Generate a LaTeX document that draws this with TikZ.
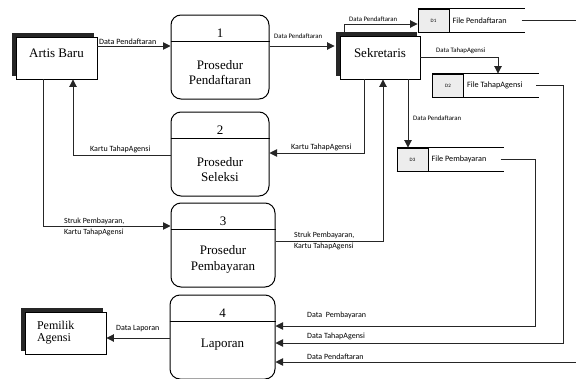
\documentclass[tikz,border=0pt]{standalone}
\usepackage{fontspec}
\setmainfont{Liberation Serif}
\newfontfamily\flowfont{Carlito}
\usetikzlibrary{arrows.meta,positioning,shadows}
\def\proses(#1)(#2)[#3:#4]#5#6{%
  \node[proc, minimum width=#3] (#1) at (#2) {};
  \draw[line width=1pt] ([yshift=-27pt]#1.north west) -- ([yshift=-27pt]#1.north east);
  \node[proctext] (#1n) at ([yshift=-19pt]#1.north) {#5};
  \node[proctext] (#1t) at ([yshift=-#4]#1.north) {#6};}
\def\simpan(#1)(#2)#3#4{%
  \node[idbox] (#1) at (#2) {#3};
  \node[storetext, right=2pt of #1] (#1t) {#4};
  \draw[line width=0.9pt] (#1.north west) -- ++(107,0);
  \draw[line width=0.9pt] (#1.south west) -- ++(107,0);
  \coordinate (#1e) at ([xshift=104pt]#1.west);}
\tikzset{
  proc/.style={draw, line width=1pt, rounded corners=10pt, minimum height=84pt, inner sep=0pt},
  proctext/.style={font=\fontsize{13}{15.5}\selectfont, align=center, inner sep=0pt},
  entity/.style={draw, line width=0.9pt, fill=white, inner sep=0pt,
    font=\fontsize{13}{15}\selectfont,
    copy shadow={shadow xshift=-4pt, shadow yshift=4pt, fill=black!85, draw=black!85}},
  idbox/.style={draw, line width=0.9pt, fill=black!7, minimum width=31pt, minimum height=23pt,
    inner sep=0pt, font=\flowfont\fontsize{5}{6}\selectfont},
  storetext/.style={inner sep=1pt, font=\flowfont\fontsize{8.2}{9}\selectfont},
  flow/.style={draw=black!85, line width=0.9pt, -{Triangle[length=7.5pt, width=7.5pt]}},
  lbl/.style={anchor=west, inner sep=0pt, font=\flowfont\fontsize{8}{9}\selectfont},
  lblkecil/.style={lbl, font=\flowfont\fontsize{6.8}{7.5}\selectfont},
  lbldua/.style={lbl, align=left, font=\flowfont\fontsize{7.9}{11}\selectfont},
}
\begin{document}
\begin{tikzpicture}[x=1pt, y=-1pt]
  \useasboundingbox (0,0) rectangle (576,378);

  % entitas luar
  \node[entity, minimum width=81pt, minimum height=42pt, text depth=10pt] (artis) at (56.5,58) {Artis Baru};
  \node[entity, minimum width=80pt, minimum height=43pt, text depth=10pt] (sek) at (380,57.5) {Sekretaris};
  \node[entity, minimum width=81pt, minimum height=42pt, text width=57pt, align=left,
    inner xsep=12pt, font=\fontsize{12}{12}\selectfont] (pemilik) at (65.5,333) {Pemilik\\Agensi};

  % proses
  \proses(p1)(220,57)[98pt:58pt]{1}{Prosedur\\Pendaftaran}
  \proses(p2)(220,154)[98pt:58pt]{2}{Prosedur\\Seleksi}
  \proses(p3)(223,245)[104pt:57pt]{3}{Prosedur\\Pembayaran}
  \proses(p4)(222.5,337)[105pt:50pt]{4}{Laporan}

  % data store
  \simpan(d1)(433.5,20.5){D1}{File Pendaftaran}
  \simpan(d2)(448,85.5){D2}{File TahapAgensi}
  \simpan(d3)(412.5,159.5){D3}{File Pembayaran}

  % arus data
  \coordinate (y1) at (0,46);
  \draw[flow] (artis.east |- y1) -- (p1.west |- y1);
  \draw[flow, shorten >=5pt] (p1.east |- y1) -- (sek.west |- y1);

  \coordinate (c1) at (344,24);
  \draw[flow, shorten <=4pt] (c1 |- sek.north) -- (c1) -- (d1.west |- c1);
  \coordinate (c2) at (498,57);
  \draw[flow] (sek.east |- c2) -- (c2) -- (c2 |- d2.north);
  \coordinate (c3) at (408,0);
  \draw[flow] (sek.south -| c3) -- (c3 |- d3.north);

  \coordinate (c4) at (364,153);
  \draw[flow] (sek.south -| c4) -- (c4) -- (p2.east |- c4);
  \coordinate (c5) at (73,155);
  \draw[flow] (p2.west |- c5) -- (c5) -- (artis.south -| c5);
  \coordinate (c6) at (43,226);
  \draw[flow] (artis.south -| c6) -- (c6) -- (p3.west |- c6);
  \coordinate (c7) at (383,241);
  \draw[flow] (p3.east |- c7) -- (c7) -- (sek.south -| c7);
  \coordinate (c8) at (0,338);
  \draw[flow] (p4.west |- c8) -- (pemilik.east |- c8);

  \coordinate (c9) at (535,326);
  \draw[flow] (d3e) -- (d3e -| c9) -- (c9) -- (p4.east |- c9);
  \coordinate (c10) at (563,343);
  \draw[flow] (d2e) -- (d2e -| c10) -- (c10) -- (p4.east |- c10);
  \coordinate (c11) at (578,362);
  \draw[flow] (d1e) -- (d1e -| c11) -- (c11) -- (p4.east |- c11);

  % label arus
  \node[lbl, font=\flowfont\fontsize{8.1}{9}\selectfont] (l1) at (99,41.5) {Data Pendaftaran};
  \node[lblkecil] (l2) at (274,36.5) {Data Pendaftaran};
  \node[lblkecil] (l3) at (349,19.5) {Data Pendaftaran};
  \node[lblkecil] (l4) at (436,51) {Data TahapAgensi};
  \node[lblkecil] (l5) at (413,118) {Data Pendaftaran};
  \node[lbl] (l6) at (291,147) {Kartu TahapAgensi};
  \node[lbl] (l7) at (90,149.5) {Kartu TahapAgensi};
  \node[lbldua] (l8) at (64,226.5) {Struk Pembayaran,\\Kartu TahapAgensi};
  \node[lbldua] (l9) at (294,240.5) {Struk Pembayaran,\\Kartu TahapAgensi};
  \node[lbl] (l10) at (116,328.5) {Data Laporan};
  \node[lbl] (l11) at (307,315.5) {Data\ \ Pembayaran};
  \node[lbl] (l12) at (307,336) {Data TahapAgensi};
  \node[lbl] (l13) at (307,357) {Data Pendaftaran};
\end{tikzpicture}
\end{document}
